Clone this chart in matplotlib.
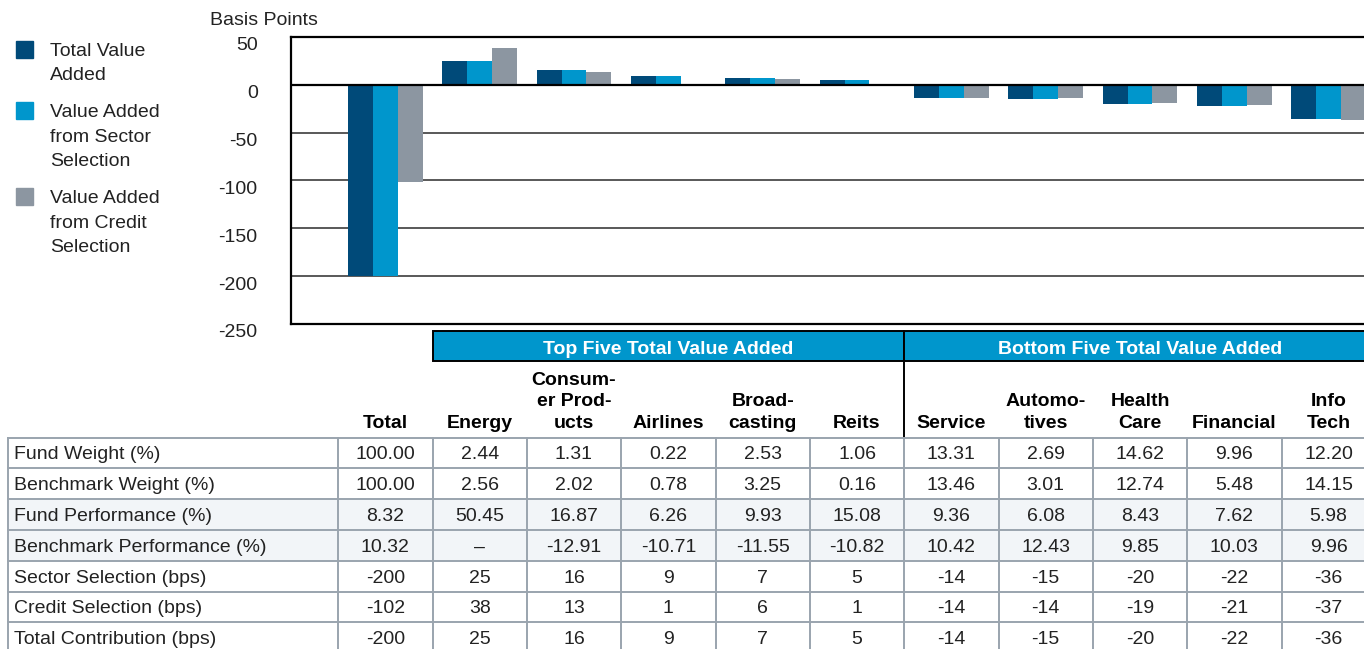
import matplotlib
matplotlib.use("Agg")
import matplotlib.pyplot as plt
from matplotlib.patches import Rectangle
from matplotlib.transforms import blended_transform_factory, ScaledTranslation

plt.rcParams['font.family'] = ['Liberation Sans', 'DejaVu Sans']
plt.rcParams['axes.unicode_minus'] = False

# ---- data ----
sectors = ["Total", "Energy", "Consum-\ner Prod-\nucts", "Airlines", "Broad-\ncasting", "Reits",
           "Service", "Automo-\ntives", "Health\nCare", "Financial", "Info\nTech"]
total_value = [-200, 25, 16, 9, 7, 5, -14, -15, -20, -22, -36]
sector_sel = [-200, 25, 16, 9, 7, 5, -14, -15, -20, -22, -36]
credit_sel = [-102, 38, 13, 1, 6, 1, -14, -14, -19, -21, -37]

fund_weight = [100.00, 2.44, 1.31, 0.22, 2.53, 1.06, 13.31, 2.69, 14.62, 9.96, 12.20]
bench_weight = [100.00, 2.56, 2.02, 0.78, 3.25, 0.16, 13.46, 3.01, 12.74, 5.48, 14.15]
fund_perf = [8.32, 50.45, 16.87, 6.26, 9.93, 15.08, 9.36, 6.08, 8.43, 7.62, 5.98]
bench_perf = [10.32, None, -12.91, -10.71, -11.55, -10.82, 10.42, 12.43, 9.85, 10.03, 9.96]

series_labels = ["Total Value\nAdded", "Value Added\nfrom Sector\nSelection",
                 "Value Added\nfrom Credit\nSelection"]
group_labels = ["Top Five Total Value Added", "Bottom Five Total Value Added"]
row_labels = ["Fund Weight (%)", "Benchmark Weight (%)", "Fund Performance (%)",
              "Benchmark Performance (%)", "Sector Selection (bps)", "Credit Selection (bps)",
              "Total Contribution (bps)"]

colors = ["#004a79", "#0096cc", "#8c96a1"]
FS = 14

W, H = 1364, 649
fig = plt.figure(figsize=(W / 100, H / 100), dpi=100)

# full-figure axes used for the legend and table (pixel y, from the top)
tab = fig.add_axes([0, 0, 1, 1])
tab.set_xlim(0, W)
tab.set_ylim(H, 0)
tab.axis("off")

# bar chart
ax = fig.add_axes([291 / W, 1 - 324 / H, 1132 / W, 287 / H])
x = list(range(len(sectors)))
bw = 0.265
for k, (vals, c) in enumerate(zip([total_value, sector_sel, credit_sel], colors)):
    ax.bar([i + (k - 1) * bw for i in x], vals, width=bw, color=c, zorder=2)

ax.set_xlim(-1, 11)
ax.set_ylim(-250, 50)
ax.set_xticks([])
ax.set_yticks(range(-250, 51, 50))
ax.tick_params(axis="y", length=0, pad=24, labelsize=FS, labelcolor="#222222")
shift = ScaledTranslation(0, -7 / 100, fig.dpi_scale_trans)
for lbl in ax.get_yticklabels():
    lbl.set_transform(lbl.get_transform() + shift)
ax.set_axisbelow(True)
ax.yaxis.grid(True, color="#3c3c3c", lw=1.2)
ax.axhline(0, color="black", lw=1.6, zorder=3)
for s in ["top", "left", "bottom"]:
    ax.spines[s].set_color("black")
    ax.spines[s].set_linewidth(1.6)
ax.spines["right"].set_visible(False)

tab.text(264, 25, "Basis Points", fontsize=FS, color="#222222", ha="center", va="baseline")

# legend
for lab, c, yb in zip(series_labels, colors, [56, 117, 203]):
    tab.add_patch(Rectangle((16, yb - 15), 17, 17, color=c))
    for j, line in enumerate(lab.split("\n")):
        tab.text(50, yb + j * 24.5, line, fontsize=FS, color="#222222",
                 va="baseline", ha="left")

# ---- table (x in bar units, y in pixels) ----
tr = blended_transform_factory(ax.transData, tab.transData)

# group header bands
for (x0, x1), lab in zip([(0.5, 5.5), (5.5, 10.5)], group_labels):
    tab.add_patch(Rectangle((x0, 331), x1 - x0, 30, transform=tr, facecolor="#0096cc",
                            edgecolor="black", lw=1.4))
    tab.text((x0 + x1) / 2, 350, lab, transform=tr, color="white", fontsize=FS,
             fontweight="bold", ha="center", va="center")
tab.plot([5.5, 5.5], [361, 437.5], transform=tr, color="black", lw=1.4)

# column headers
for i, lab in enumerate(sectors):
    tab.text(i, 432, lab, transform=tr, fontsize=FS, fontweight="bold", ha="center",
             va="bottom", linespacing=1.36, color="black")

rows = [
    [f"{v:.2f}" for v in fund_weight],
    [f"{v:.2f}" for v in bench_weight],
    [f"{v:.2f}" for v in fund_perf],
    ["\u2013" if v is None else f"{v:.2f}" for v in bench_perf],
    [str(v) for v in sector_sel],
    [str(v) for v in credit_sel],
    [str(v) for v in total_value],
]
top0, rh = 437.5, 30.8
left = -4.0
for r, (lab, vals) in enumerate(zip(row_labels, rows)):
    y0 = top0 + r * rh
    if r in (2, 3):
        tab.add_patch(Rectangle((left, y0), 16, rh, transform=tr, facecolor="#f2f5f8",
                                edgecolor="none", zorder=0))
    yc = y0 + rh / 2 + 2
    tab.text(left + 0.063, yc, lab, transform=tr, fontsize=FS, color="#222222",
             ha="left", va="center")
    for i, v in enumerate(vals):
        tab.text(i, yc, v, transform=tr, fontsize=FS, color="#222222", ha="center", va="center")

grid_c = "#9aa4ae"
for r in range(len(rows) + 1):
    y = top0 + r * rh
    tab.plot([left, 12], [y, y], transform=tr, color=grid_c, lw=1.4)
for xv in [left] + [i - 0.5 for i in range(len(sectors) + 1)]:
    tab.plot([xv, xv], [top0, H + 5], transform=tr, color=grid_c, lw=1.4)

fig.savefig("out.png", dpi=100, facecolor="white")
